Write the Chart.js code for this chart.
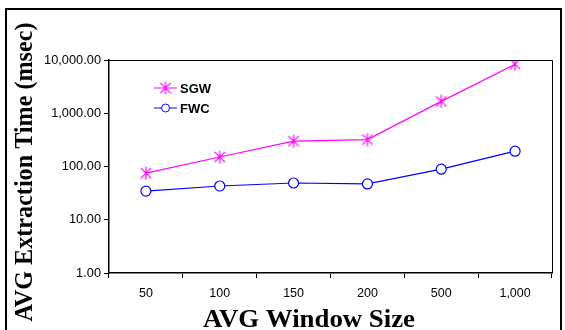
<!DOCTYPE html>
<html>
<head>
<meta charset="utf-8">
<script src="https://cdn.jsdelivr.net/npm/chart.js@4.4.0/dist/chart.umd.min.js"></script>
<style>
  html, body { margin: 0; padding: 0; background: #fff; }
  #wrap { position: relative; width: 565px; height: 330px; overflow: hidden; }
  #frame { position: absolute; left: 5px; top: 8px; width: 557px; height: 340px; border: 2px solid #000; box-sizing: border-box; }
  canvas { position: absolute; left: 0; top: 0; }
</style>
</head>
<body>
<div id="wrap">
  <div id="frame"></div>
  <canvas id="chart" width="565" height="330"></canvas>
</div>
<script>
// Window sizes (x categories)
const windowSizes = ['50', '100', '150', '200', '500', '1,000'];
// Average extraction time (msec)
const sgwTimes = [75, 151, 300, 320, 1670, 8300];
const fwcTimes = [34.5, 43, 49, 47, 89, 194];
// y tick values (log scale)
const yTicks = [1, 10, 100, 1000, 10000];

const xTitle = 'AVG Window Size';
const yTitle = 'AVG Extraction Time (msec)';

const colors = {
    sgw: '#ff00ff',
    fwc: '#0000ff'
};

const titleFont = 'bold 26px "Liberation Serif", "Times New Roman", serif';

// asterisk marker like excel's star: vertical + diagonal cross
function makeStar(color, size) {
    const c = document.createElement('canvas');
    c.width = size; c.height = size;
    const g = c.getContext('2d');
    const m = size / 2, r = size / 2 - 0.5;
    g.strokeStyle = color;
    g.lineWidth = 1.2;
    g.beginPath();
    g.moveTo(m, m - r); g.lineTo(m, m + r);
    g.moveTo(m - r * 0.8, m - r * 0.8); g.lineTo(m + r * 0.8, m + r * 0.8);
    g.moveTo(m + r * 0.8, m - r * 0.8); g.lineTo(m - r * 0.8, m + r * 0.8);
    g.stroke();
    return c;
}
const starMarker = makeStar(colors.sgw, 14);

// plot box, legend inside the plot area, axis titles
const boxAndLegend = {
    id: 'boxAndLegend',
    afterDraw(chart) {
        const ctx = chart.ctx;
        const a = chart.chartArea;
        ctx.save();
        ctx.strokeStyle = '#000';
        ctx.lineWidth = 1;
        ctx.beginPath();
        ctx.moveTo(a.left, a.top + 0.5);
        ctx.lineTo(a.right + 0.5, a.top + 0.5);
        ctx.lineTo(a.right + 0.5, a.bottom);
        ctx.stroke();

        const items = [
            { label: chart.data.datasets[0].label, color: colors.sgw, y: 88, star: true },
            { label: chart.data.datasets[1].label, color: colors.fwc, y: 108, star: false }
        ];
        items.forEach(it => {
            ctx.strokeStyle = it.color;
            ctx.lineWidth = 1;
            ctx.beginPath();
            ctx.moveTo(154, it.y);
            ctx.lineTo(177, it.y);
            ctx.stroke();
            if (it.star) {
                ctx.drawImage(starMarker, 165.5 - 7, it.y - 7);
            } else {
                ctx.beginPath();
                ctx.arc(165.5, it.y, 4, 0, Math.PI * 2);
                ctx.fillStyle = '#fff';
                ctx.fill();
                ctx.stroke();
            }
            ctx.fillStyle = '#000';
            ctx.font = 'bold 13px "Liberation Sans", Arial, sans-serif';
            ctx.textBaseline = 'middle';
            ctx.textAlign = 'left';
            ctx.fillText(it.label, 180, it.y + 1);
        });

        // axis titles
        ctx.fillStyle = '#000';
        ctx.font = titleFont;
        ctx.textAlign = 'center';
        ctx.textBaseline = 'alphabetic';

        ctx.save();
        ctx.translate(309, 327);
        ctx.scale(212 / ctx.measureText(xTitle).width, 1);
        ctx.fillText(xTitle, 0, 0);
        ctx.restore();

        ctx.save();
        ctx.translate(32, 172);
        ctx.rotate(-Math.PI / 2);
        ctx.scale(299 / ctx.measureText(yTitle).width, 1);
        ctx.fillText(yTitle, 0, 0);
        ctx.restore();

        ctx.restore();
    }
};

new Chart(document.getElementById('chart'), {
    type: 'line',
    data: {
        labels: windowSizes,
        datasets: [{
            label: 'SGW',
            data: sgwTimes,
            borderColor: colors.sgw,
            backgroundColor: colors.sgw,
            borderWidth: 1.2,
            pointStyle: starMarker,
            pointRadius: 7,
            tension: 0
        }, {
            label: 'FWC',
            data: fwcTimes,
            borderColor: colors.fwc,
            backgroundColor: '#fff',
            borderWidth: 1.2,
            pointStyle: 'circle',
            pointRadius: 5,
            pointBorderWidth: 1.2,
            tension: 0
        }]
    },
    options: {
        responsive: false,
        animation: false,
        layout: { padding: { left: 0, top: 60, right: 13, bottom: 0 } },
        plugins: {
            legend: { display: false },
            tooltip: { enabled: false }
        },
        scales: {
            x: {
                type: 'category',
                offset: true,
                grid: { display: true, drawOnChartArea: false, drawTicks: true, tickLength: 5, color: '#000', offset: true },
                border: { display: true, color: '#000', width: 1.5 },
                ticks: {
                    color: '#000',
                    padding: 8,
                    maxRotation: 0,
                    font: { family: '"Liberation Sans", Arial, sans-serif', size: 12.5 }
                },
                afterFit(scale) { scale.height = 57; }
            },
            y: {
                type: 'logarithmic',
                min: 1,
                max: 10000,
                grid: { display: true, drawOnChartArea: false, drawTicks: true, tickLength: 5, color: '#000' },
                border: { display: true, color: '#000', width: 1.5 },
                afterBuildTicks(scale) {
                    scale.ticks = yTicks.map(v => ({ value: v }));
                },
                ticks: {
                    color: '#000',
                    padding: 3,
                    font: { family: '"Liberation Sans", Arial, sans-serif', size: 12.8 },
                    callback: v => Number(v).toLocaleString('en-US', { minimumFractionDigits: 2, maximumFractionDigits: 2 })
                },
                afterFit(scale) { scale.width = 109; }
            }
        }
    },
    plugins: [boxAndLegend]
});
</script>
</body>
</html>
